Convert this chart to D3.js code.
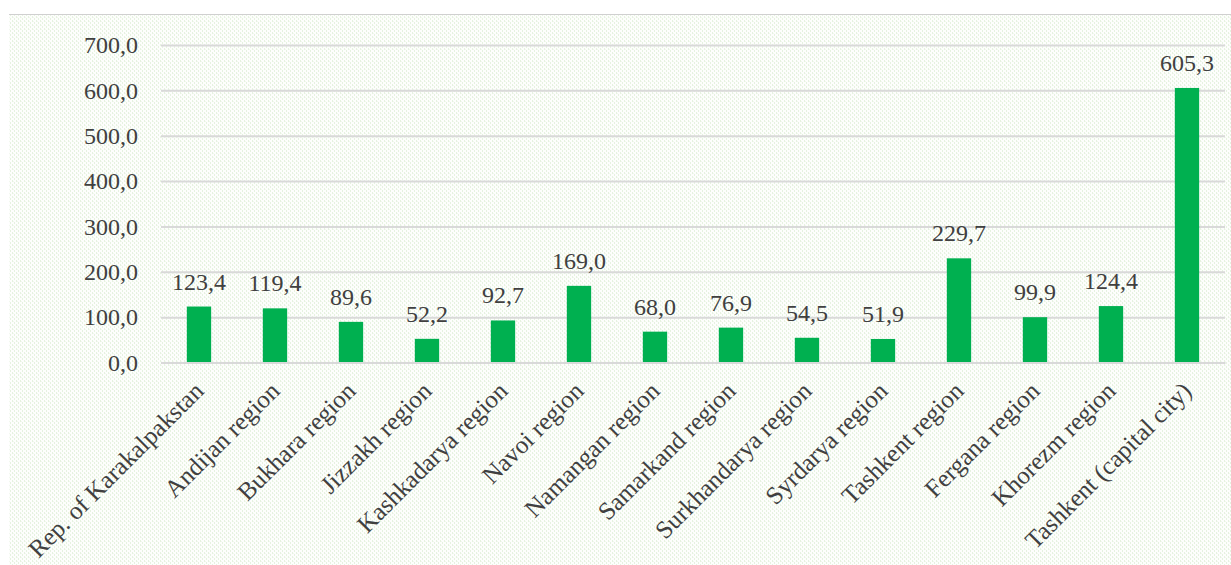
<!DOCTYPE html>
<html>
<head>
<meta charset="utf-8">
<script src="https://cdn.jsdelivr.net/npm/d3@7"></script>
<style>
  html, body { margin: 0; padding: 0; background: #ffffff; }
  svg { display: block; }
</style>
</head>
<body>
<svg id="chart" width="1231" height="565"></svg>
<script>
// Regions of Uzbekistan and their values
const categories = [
  "Rep. of Karakalpakstan", "Andijan region", "Bukhara region", "Jizzakh region",
  "Kashkadarya region", "Navoi region", "Namangan region", "Samarkand region",
  "Surkhandarya region", "Syrdarya region", "Tashkent region", "Fergana region",
  "Khorezm region", "Tashkent (capital city)"
];
const values = [123.4, 119.4, 89.6, 52.2, 92.7, 169.0, 68.0, 76.9, 54.5, 51.9, 229.7, 99.9, 124.4, 605.3];
const yTicks = [0, 100, 200, 300, 400, 500, 600, 700];

const fmt = v => d3.format(".1f")(v).replace(".", ",");
const FONT = "'Liberation Serif', 'Times New Roman', 'DejaVu Serif', serif";
const INK = "#404040";

const W = 1231, H = 565;
const margin = { left: 161, right: 6, top: 45, bottom: 202 };
const svg = d3.select("#chart");

// Textured chart-area background
const defs = svg.append("defs");
const pat = defs.append("pattern")
  .attr("id", "bgTex").attr("patternUnits", "userSpaceOnUse")
  .attr("width", 4).attr("height", 4);
pat.append("rect").attr("width", 4).attr("height", 4).attr("fill", "#fdfefc");
pat.append("rect").attr("x", 0).attr("y", 0).attr("width", 1).attr("height", 2).attr("fill", "#e6f2e0");
pat.append("rect").attr("x", 2).attr("y", 2).attr("width", 1).attr("height", 2).attr("fill", "#e6f2e0");
pat.append("rect").attr("x", 1).attr("y", 1).attr("width", 1).attr("height", 1).attr("fill", "#f2f8ef");

svg.append("rect").attr("x", 9).attr("y", 14).attr("width", W - 9).attr("height", H - 14)
  .attr("fill", "url(#bgTex)");
svg.append("line").attr("x1", 9).attr("x2", W).attr("y1", 14.5).attr("y2", 14.5)
  .attr("stroke", "#d0d0d0").attr("stroke-width", 1);

const x = d3.scaleBand()
  .domain(categories)
  .range([margin.left, W - margin.right])
  .paddingInner(0.68).paddingOuter(0.34);

const y = d3.scaleLinear()
  .domain([0, 700])
  .range([H - margin.bottom - 0.5, margin.top]);

// Gridlines and value axis labels
const yAxis = d3.axisLeft(y).tickValues(yTicks).tickFormat(fmt)
  .tickSize(-(W - margin.right - margin.left)).tickPadding(23);
const gy = svg.append("g").attr("transform", `translate(${margin.left},0)`).call(yAxis);
gy.attr("font-family", null).attr("font-size", null);
gy.select(".domain").remove();
gy.selectAll(".tick line").attr("stroke", "#d9d9d9").attr("stroke-width", 2);
gy.selectAll(".tick text")
  .style("font-family", FONT).style("font-size", "24px").style("fill", INK);

// Bars
svg.append("g").selectAll("rect").data(values).join("rect")
  .attr("x", (d, i) => x(categories[i]))
  .attr("width", x.bandwidth())
  .attr("y", d => y(d))
  .attr("height", d => y(0) - y(d))
  .attr("fill", "#00b050");

// Value labels
svg.append("g").selectAll("text").data(values).join("text")
  .attr("x", (d, i) => x(categories[i]) + x.bandwidth() / 2)
  .attr("y", d => y(d) - 17)
  .attr("text-anchor", "middle")
  .style("font-family", FONT).style("font-size", "24px").style("fill", INK)
  .text(d => fmt(d));

// Category axis
const xAxis = d3.axisBottom(x).tickSize(0).tickPadding(0);
const gx = svg.append("g").attr("transform", `translate(0,${y(0)})`).call(xAxis);
gx.attr("font-family", null).attr("font-size", null);
gx.select(".domain").attr("stroke", "#d9d9d9").attr("stroke-width", 2);
gx.selectAll(".tick text")
  .style("font-family", FONT).style("font-size", "25px").style("fill", INK)
  .attr("text-anchor", "end")
  .attr("dy", null)
  .attr("transform", "translate(6,30) rotate(-45)");
</script>
</body>
</html>
